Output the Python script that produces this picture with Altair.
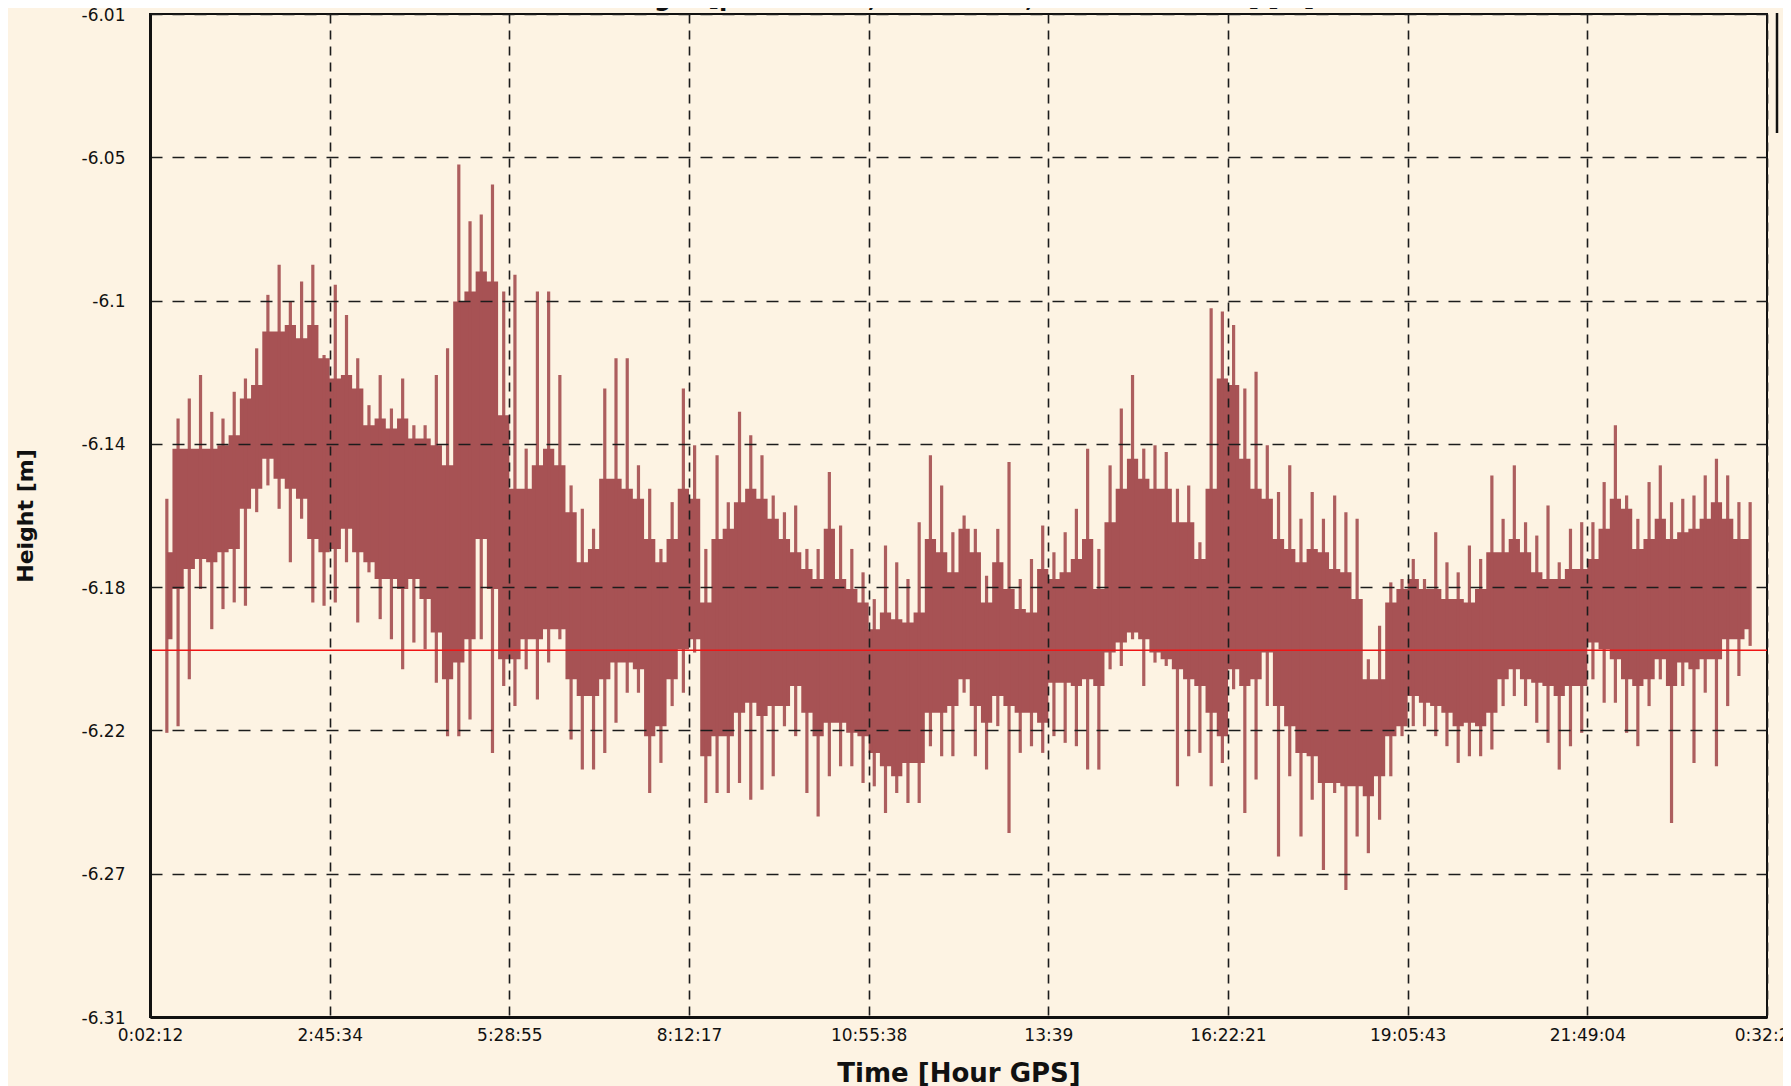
import altair as alt
import pandas as pd

# ---------------- data ----------------
bins = list(range(1, 143))          # sample bins (1/16 of a tick interval each)
BIN_SEC = 612.59                    # seconds per bin
T0 = 132                            # 0:02:12

spike_hi = [
    -6.155, -6.131, -6.125, -6.118, -6.129, -6.131, -6.123, -6.119, -6.110, -6.094,
    -6.085, -6.096, -6.090, -6.085, -6.112, -6.091, -6.100, -6.113, -6.127, -6.118,
    -6.128, -6.119, -6.133, -6.133, -6.118, -6.110, -6.055, -6.072, -6.070, -6.061,
    -6.093, -6.088, -6.140, -6.093, -6.093, -6.118, -6.151, -6.158, -6.164, -6.122,
    -6.113, -6.113, -6.145, -6.152, -6.170, -6.156, -6.122, -6.139, -6.170, -6.142,
    -6.156, -6.129, -6.136, -6.142, -6.154, -6.159, -6.157, -6.170, -6.170, -6.147,
    -6.163, -6.170, -6.177, -6.185, -6.169, -6.174, -6.179, -6.162, -6.142, -6.151,
    -6.165, -6.160, -6.164, -6.178, -6.164, -6.144, -6.179, -6.173, -6.163, -6.171,
    -6.165, -6.158, -6.140, -6.170, -6.145, -6.128, -6.118, -6.140, -6.139, -6.141,
    -6.152, -6.151, -6.168, -6.098, -6.099, -6.103, -6.122, -6.117, -6.139, -6.153,
    -6.145, -6.161, -6.153, -6.161, -6.154, -6.159, -6.161, -6.203, -6.193, -6.180,
    -6.179, -6.173, -6.179, -6.165, -6.174, -6.177, -6.169, -6.173, -6.148, -6.161,
    -6.145, -6.162, -6.166, -6.157, -6.174, -6.164, -6.162, -6.162, -6.150, -6.133,
    -6.154, -6.161, -6.150, -6.145, -6.156, -6.155, -6.154, -6.148, -6.143, -6.148,
    -6.156, -6.156,
]
spike_lo = [
    -6.225, -6.223, -6.209, -6.182, -6.194, -6.188, -6.186, -6.187, -6.159, -6.151,
    -6.158, -6.174, -6.161, -6.186, -6.187, -6.186, -6.174, -6.192, -6.177, -6.191,
    -6.197, -6.206, -6.198, -6.200, -6.210, -6.226, -6.226, -6.221, -6.197, -6.231,
    -6.211, -6.217, -6.206, -6.215, -6.204, -6.197, -6.227, -6.236, -6.236, -6.231,
    -6.222, -6.213, -6.213, -6.243, -6.234, -6.217, -6.213, -6.201, -6.246, -6.243,
    -6.243, -6.240, -6.245, -6.242, -6.238, -6.223, -6.226, -6.243, -6.250, -6.238,
    -6.235, -6.235, -6.240, -6.241, -6.249, -6.243, -6.246, -6.246, -6.229, -6.232,
    -6.232, -6.213, -6.232, -6.236, -6.223, -6.255, -6.231, -6.229, -6.231, -6.226,
    -6.228, -6.229, -6.236, -6.236, -6.206, -6.205, -6.197, -6.211, -6.204, -6.205,
    -6.241, -6.232, -6.231, -6.241, -6.234, -6.212, -6.249, -6.239, -6.217, -6.262,
    -6.238, -6.256, -6.245, -6.266, -6.243, -6.272, -6.256, -6.261, -6.251, -6.238,
    -6.226, -6.223, -6.223, -6.226, -6.229, -6.234, -6.232, -6.232, -6.230, -6.217,
    -6.214, -6.217, -6.222, -6.228, -6.236, -6.229, -6.225, -6.209, -6.216, -6.216,
    -6.225, -6.229, -6.217, -6.209, -6.252, -6.211, -6.234, -6.213, -6.235, -6.217,
    -6.208, -6.199,
]
core_hi = [
    -6.171, -6.140, -6.140, -6.140, -6.140, -6.139, -6.136, -6.125, -6.121, -6.105,
    -6.105, -6.103, -6.107, -6.103, -6.113, -6.119, -6.118, -6.122, -6.133, -6.131,
    -6.134, -6.131, -6.137, -6.137, -6.139, -6.145, -6.096, -6.093, -6.087, -6.090,
    -6.130, -6.152, -6.152, -6.145, -6.140, -6.145, -6.159, -6.174, -6.170, -6.149,
    -6.149, -6.152, -6.155, -6.167, -6.174, -6.167, -6.152, -6.155, -6.186, -6.167,
    -6.164, -6.156, -6.152, -6.155, -6.161, -6.167, -6.171, -6.176, -6.179, -6.164,
    -6.179, -6.182, -6.186, -6.194, -6.189, -6.191, -6.192, -6.189, -6.167, -6.171,
    -6.177, -6.164, -6.171, -6.186, -6.174, -6.182, -6.188, -6.189, -6.176, -6.179,
    -6.177, -6.173, -6.167, -6.182, -6.162, -6.152, -6.143, -6.149, -6.152, -6.152,
    -6.162, -6.162, -6.173, -6.152, -6.119, -6.121, -6.143, -6.152, -6.155, -6.167,
    -6.170, -6.174, -6.170, -6.171, -6.176, -6.177, -6.185, -6.209, -6.209, -6.186,
    -6.182, -6.179, -6.182, -6.182, -6.185, -6.185, -6.186, -6.182, -6.171, -6.171,
    -6.167, -6.171, -6.177, -6.179, -6.179, -6.176, -6.176, -6.173, -6.164, -6.155,
    -6.158, -6.170, -6.167, -6.161, -6.167, -6.165, -6.164, -6.161, -6.156, -6.161,
    -6.167, -6.167,
]
core_lo = [
    -6.197, -6.182, -6.176, -6.173, -6.174, -6.171, -6.170, -6.158, -6.152, -6.143,
    -6.149, -6.152, -6.155, -6.167, -6.171, -6.170, -6.164, -6.171, -6.174, -6.179,
    -6.179, -6.182, -6.179, -6.185, -6.195, -6.209, -6.204, -6.197, -6.167, -6.182,
    -6.203, -6.203, -6.197, -6.197, -6.194, -6.194, -6.209, -6.214, -6.214, -6.209,
    -6.204, -6.204, -6.206, -6.226, -6.223, -6.209, -6.200, -6.197, -6.232, -6.226,
    -6.226, -6.219, -6.216, -6.220, -6.217, -6.217, -6.211, -6.219, -6.226, -6.222,
    -6.222, -6.225, -6.226, -6.231, -6.235, -6.238, -6.234, -6.234, -6.219, -6.219,
    -6.217, -6.209, -6.217, -6.222, -6.214, -6.217, -6.219, -6.219, -6.222, -6.210,
    -6.210, -6.211, -6.209, -6.211, -6.201, -6.198, -6.195, -6.197, -6.201, -6.203,
    -6.206, -6.209, -6.211, -6.219, -6.226, -6.206, -6.211, -6.209, -6.201, -6.217,
    -6.223, -6.231, -6.232, -6.240, -6.240, -6.241, -6.241, -6.244, -6.238, -6.226,
    -6.223, -6.214, -6.216, -6.217, -6.219, -6.223, -6.222, -6.223, -6.219, -6.209,
    -6.206, -6.209, -6.210, -6.211, -6.214, -6.211, -6.211, -6.198, -6.200, -6.203,
    -6.209, -6.211, -6.209, -6.203, -6.211, -6.204, -6.206, -6.203, -6.203, -6.197,
    -6.197, -6.194,
]

mean_height = -6.2003

x_ticks = [132, 9934, 19735, 29537, 39338, 49140, 58941, 68743, 78544, 88346]
x_labels = ["0:02:12", "2:45:34", "5:28:55", "8:12:17", "10:55:38", "13:39",
            "16:22:21", "19:05:43", "21:49:04", "0:32:26"]
y_ticks = [-6.31, -6.2671, -6.2243, -6.1814, -6.1386, -6.0957, -6.0529, -6.01]
y_labels = ["-6.31", "-6.27", "-6.22", "-6.18", "-6.14", "-6.1", "-6.05", "-6.01"]

title_text = "Height [\u03bc= -6.2002, \u03c3= 0.0020, Value= -6.2000] [m]"

# ---------------- chart ----------------
W, H = 1617, 1003
BAND = "#A75254"
BG = "#FDF3E3"
FONT = "DejaVu Sans"

df = pd.DataFrame({
    "t": [T0 + (k + 0.5) * BIN_SEC for k in bins],
    "spike_hi": spike_hi,
    "spike_lo": spike_lo,
    "core_hi": core_hi,
    "core_lo": core_lo,
})

x_label_expr = "[" + ",".join(f"'{s}'" for s in x_labels) + "][indexof(" + \
    "[" + ",".join(str(v) for v in x_ticks) + "], datum.value)]"
y_label_expr = "[" + ",".join(f"'{s}'" for s in y_labels) + "][indexof(" + \
    "[" + ",".join(str(v) for v in y_ticks) + "], datum.value)]"

x_scale = alt.Scale(domain=[x_ticks[0], x_ticks[-1]], nice=False, zero=False)
y_scale = alt.Scale(domain=[-6.31, -6.01], nice=False, zero=False)

x_axis = alt.Axis(
    values=x_ticks, labelExpr=x_label_expr, title="Time [Hour GPS]",
    grid=True, gridDash=[9, 7], gridColor="#1c1c1c", gridWidth=1.6,
    ticks=False, tickSize=0, domain=True, domainColor="#111111", domainWidth=3,
    labelFont=FONT, labelFontSize=17, labelColor="#111111", labelPadding=10,
    labelBaseline="top", labelFlush=False, labelOverlap=False,
    titleFont=FONT, titleFontSize=26, titleFontWeight="bold", titleColor="#111111",
    titleY=64, titleBaseline="alphabetic", zindex=1,
)
y_axis = alt.Axis(
    values=y_ticks, labelExpr=y_label_expr, title="Height [m]",
    grid=True, gridDash=[12, 10], gridColor="#1c1c1c", gridWidth=1.6,
    ticks=False, tickSize=0, domain=True, domainColor="#111111", domainWidth=3,
    labelFont=FONT, labelFontSize=17, labelColor="#111111", labelPadding=25,
    labelOffset=1, labelFlush=False, labelOverlap=False,
    titleFont=FONT, titleFontSize=22, titleFontWeight="bold", titleColor="#111111",
    titleX=-125, titleY=H / 2, titleAngle=-90, titleBaseline="middle",
    titleAlign="center", zindex=1,
)


def xenc(field):
    return alt.X(f"{field}:Q", scale=x_scale, axis=x_axis)


def yenc(field):
    return alt.Y(f"{field}:Q", scale=y_scale, axis=y_axis)


base = alt.Chart(df)

core = base.mark_area(color=BAND, opacity=1, interpolate="step").encode(
    x=xenc("t"), y=yenc("core_hi"), y2="core_lo"
)
spikes = base.mark_rule(color=BAND, strokeWidth=3.2, opacity=0.93).encode(
    x=xenc("t"), y=yenc("spike_hi"), y2="spike_lo"
)

mean_df = pd.DataFrame({"mean": [mean_height]})
mean_line = alt.Chart(mean_df).mark_rule(color="#F01414", strokeWidth=1.5).encode(
    y=yenc("mean")
)

side_df = pd.DataFrame({"k": [0]})
side_bar = alt.Chart(side_df).mark_rule(color="#111111", strokeWidth=2.5).encode(
    x=alt.value(W + 10), y=alt.value(-1), y2=alt.value(119)
)

title_df = pd.DataFrame({"title": [title_text]})
title = alt.Chart(title_df).mark_text(
    font=FONT, fontSize=24, fontWeight="bold", color="#111111",
    align="center", baseline="alphabetic",
).encode(text="title:N", x=alt.value(812), y=alt.value(-8))

chart = alt.layer(core, spikes, mean_line, side_bar, title).properties(
    width=W, height=H,
    autosize=alt.AutoSizeParams(type="none"),
    padding={"left": 142, "top": 6, "right": 16, "bottom": 69},
    background=BG,
).configure_view(stroke="#111111", strokeWidth=2)

chart.save("out.html", embed_options={"renderer": "svg", "actions": False})
